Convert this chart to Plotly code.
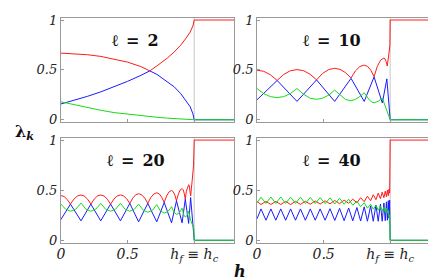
import plotly.graph_objects as go

# ---------------- data ----------------
# panel l = 2
H1 = [0, 0.1, 0.2, 0.3, 0.4, 0.5, 0.6, 0.667, 0.72, 0.8, 0.85, 0.9, 0.94, 0.97, 0.99, 1.0, 1.3]
R1 = [0.668, 0.663, 0.652, 0.635, 0.610, 0.578, 0.533, 0.49, 0.54, 0.62, 0.68, 0.75, 0.82, 0.88, 0.94, 1.0, 1.0]
B1 = [0.158, 0.195, 0.235, 0.28, 0.33, 0.385, 0.445, 0.49, 0.455, 0.375, 0.33, 0.26, 0.19, 0.13, 0.06, 0.0, 0.0]
G1 = [0.18, 0.15, 0.12, 0.095, 0.072, 0.055, 0.04, 0.03, 0.025, 0.016, 0.012, 0.008, 0.005, 0.003, 0.001, 0.0, 0.0]

# panel l = 10
HR2 = [0, 0.05, 0.10, 0.151, 0.20, 0.25, 0.30, 0.349, 0.398, 0.447, 0.492, 0.538, 0.583, 0.624,
       0.665, 0.706, 0.739, 0.772, 0.805, 0.83, 0.855, 0.879, 0.903, 0.928, 0.953, 0.961, 0.970,
       0.978, 0.99, 0.998, 1.0, 1.3]
R2 = [0.497, 0.486, 0.451, 0.394, 0.454, 0.491, 0.503, 0.492, 0.457, 0.40, 0.464, 0.503, 0.516, 0.505,
      0.472, 0.419, 0.49, 0.534, 0.548, 0.535, 0.496, 0.432, 0.535, 0.598, 0.619, 0.61, 0.583,
      0.539, 0.66, 0.75, 1.0, 1.0]
HB2 = [0, 0.151, 0.30, 0.447, 0.583, 0.706, 0.805, 0.879, 0.941, 0.975, 1.0, 1.3]
B2 = [0.20, 0.394, 0.184, 0.40, 0.184, 0.415, 0.184, 0.43, 0.168, 0.41, 0.0, 0.0]
HG2 = [0, 0.05, 0.10, 0.151, 0.20, 0.25, 0.30, 0.35, 0.40, 0.447, 0.49, 0.54, 0.583, 0.625, 0.665,
       0.706, 0.74, 0.775, 0.805, 0.84, 0.86, 0.879, 0.91, 0.941, 0.96, 0.985, 1.0, 1.3]
G2 = [0.313, 0.262, 0.232, 0.222, 0.232, 0.262, 0.313, 0.255, 0.215, 0.205, 0.215, 0.248, 0.297, 0.245,
      0.203, 0.19, 0.205, 0.235, 0.271, 0.205, 0.178, 0.17, 0.185, 0.216, 0.15, 0.07, 0.0, 0.0]

# panel l = 20
HR3 = [0, 0.024, 0.048, 0.072, 0.098, 0.125, 0.151, 0.175, 0.200, 0.225, 0.25, 0.274, 0.299, 0.324,
       0.348, 0.373, 0.398, 0.422, 0.447, 0.47, 0.494, 0.517, 0.539, 0.561, 0.583, 0.606, 0.629,
       0.652, 0.674, 0.697, 0.719, 0.738, 0.756, 0.775, 0.793, 0.812, 0.830, 0.842, 0.855, 0.867,
       0.881, 0.895, 0.909, 0.917, 0.925, 0.933, 0.941, 0.95, 0.958, 0.963, 0.968, 0.973, 0.985,
       0.995, 1.0, 1.3]
R3 = [0.446, 0.437, 0.407, 0.361, 0.411, 0.442, 0.452, 0.442, 0.411, 0.361, 0.411, 0.442, 0.452, 0.442,
      0.411, 0.361, 0.411, 0.442, 0.452, 0.443, 0.414, 0.368, 0.421, 0.454, 0.465, 0.454, 0.421,
      0.368, 0.426, 0.462, 0.474, 0.463, 0.430, 0.377, 0.443, 0.484, 0.497, 0.486, 0.451, 0.394,
      0.461, 0.503, 0.516, 0.504, 0.468, 0.41, 0.49, 0.539, 0.555, 0.543, 0.504, 0.442, 0.6,
      0.75, 1.0, 1.0]
HB3 = [0, 0.072, 0.151, 0.225, 0.299, 0.373, 0.447, 0.517, 0.583, 0.652, 0.719, 0.775, 0.830, 0.867,
       0.909, 0.933, 0.958, 0.973, 1.0, 1.3]
B3 = [0.206, 0.361, 0.194, 0.361, 0.194, 0.361, 0.194, 0.368, 0.184, 0.368, 0.184, 0.377, 0.174, 0.394,
      0.174, 0.41, 0.168, 0.426, 0.0, 0.0]
HG3 = [0, 0.036, 0.072, 0.112, 0.151, 0.188, 0.225, 0.262, 0.299, 0.336, 0.373, 0.41, 0.447, 0.482,
       0.517, 0.55, 0.583, 0.618, 0.652, 0.686, 0.719, 0.747, 0.775, 0.803, 0.830, 0.849, 0.867,
       0.888, 0.909, 0.921, 0.933, 0.946, 0.958, 0.966, 0.973, 0.985, 0.997, 1.0, 1.3]
G3 = [0.362, 0.31, 0.29, 0.31, 0.371, 0.31, 0.29, 0.31, 0.368, 0.31, 0.29, 0.31, 0.368, 0.31,
      0.29, 0.308, 0.361, 0.30, 0.28, 0.299, 0.355, 0.292, 0.271, 0.287, 0.335, 0.277, 0.258,
      0.274, 0.32, 0.254, 0.232, 0.247, 0.29, 0.22, 0.2, 0.16, 0.12, 0.0, 0.0]

# panel l = 40
H4 = [0, 0.03, 0.067, 0.104, 0.141, 0.178, 0.215, 0.252, 0.289, 0.326, 0.363, 0.40, 0.437, 0.474,
      0.511, 0.548, 0.584, 0.62, 0.654, 0.688, 0.719, 0.75, 0.778, 0.805, 0.829, 0.853, 0.873,
      0.893, 0.91, 0.927, 0.94, 0.953, 0.963, 0.972, 0.979, 0.986, 0.991, 0.996, 1.0, 1.3]
R4 = [0.387, 0.357, 0.388, 0.357, 0.388, 0.357, 0.388, 0.357, 0.389, 0.358, 0.39, 0.36, 0.392, 0.362,
      0.394, 0.364, 0.397, 0.366, 0.40, 0.37, 0.41, 0.375, 0.425, 0.385, 0.44, 0.395, 0.455,
      0.405, 0.47, 0.415, 0.48, 0.425, 0.49, 0.435, 0.50, 0.445, 0.51, 0.47, 1.0, 1.0]
B4 = [0.215, 0.313, 0.2, 0.313, 0.2, 0.313, 0.2, 0.313, 0.2, 0.313, 0.2, 0.313, 0.2, 0.313,
      0.2, 0.315, 0.198, 0.318, 0.196, 0.322, 0.194, 0.327, 0.192, 0.334, 0.19, 0.343, 0.19,
      0.352, 0.19, 0.362, 0.19, 0.372, 0.195, 0.383, 0.2, 0.395, 0.22, 0.40, 0.0, 0.0]
G4 = [0.375, 0.43, 0.368, 0.432, 0.368, 0.432, 0.368, 0.43, 0.368, 0.43, 0.367, 0.428, 0.366, 0.426,
      0.365, 0.424, 0.362, 0.42, 0.36, 0.41, 0.35, 0.39, 0.335, 0.375, 0.32, 0.36, 0.31,
      0.35, 0.3, 0.34, 0.29, 0.33, 0.28, 0.32, 0.27, 0.3, 0.24, 0.25, 0.0, 0.0]

PANEL_LABELS = ["2", "10", "20", "40"]
X_TICKVALS = [0, 0.5, 1.0]
X_TICKTEXT = ["<i>0</i>", "<i>0.5</i>", "<i>h</i><sub><i>f</i></sub><i> \u2261 h</i><sub><i>c</i></sub>"]
Y_TICKVALS = [0, 0.5, 1.0]
Y_TICKTEXT = ["<i>0</i>", "<i>0.5</i>", "<i>1</i>"]
H_C = 1.0

# ---------------- figure ----------------
RED, BLUE, GREEN = "#ff1a1a", "#1a1aff", "#14dc14"
FONT = "DejaVu Serif"
W, Hh = 436, 280

panels = [
    ((H1, R1), (H1, B1), (H1, G1)),
    ((HR2, R2), (HB2, B2), (HG2, G2)),
    ((HR3, R3), (HB3, B3), (HG3, G3)),
    ((H4, R4), (H4, B4), (H4, G4)),
]

# pixel frames of the four panels: (left, right, top, bottom)
frames = [(49.3, 224.3, 5, 113.3), (247.3, 422, 5, 113.3),
          (49.3, 224.3, 129.5, 238.3), (247.3, 422, 129.5, 238.3)]

fig = go.Figure()
layout = dict(width=W, height=Hh, margin=dict(l=0, r=0, t=0, b=0),
              paper_bgcolor="white", plot_bgcolor="white", showlegend=False,
              font=dict(family=FONT, color="#222"))

shapes = []
annotations = []
for i, (pan, fr) in enumerate(zip(panels, frames)):
    n = "" if i == 0 else str(i + 1)
    xa, ya = "x" + n, "y" + n
    for (hx, vy), col in zip(pan, (RED, BLUE, GREEN)):
        fig.add_trace(go.Scatter(x=hx, y=vy, mode="lines", xaxis=xa, yaxis=ya,
                                 line=dict(color=col, width=1), hoverinfo="skip"))
    l, r, t, b = fr
    bottom_row = i >= 2
    layout["xaxis" + n] = dict(
        domain=[l / W, r / W], range=[0, 1.3], anchor=ya,
        showline=True, linecolor="#999", linewidth=1, mirror=True,
        ticks="inside", ticklen=3, tickcolor="#999",
        tickvals=X_TICKVALS, ticktext=X_TICKTEXT,
        showticklabels=bottom_row, showgrid=False, zeroline=False,
        ticklabelstandoff=-2,
        tickfont=dict(family=FONT, size=14, color="#222"))
    layout["yaxis" + n] = dict(
        domain=[1 - b / Hh, 1 - t / Hh], range=[-0.025, 1.022], anchor=xa,
        showline=True, linecolor="#999", linewidth=1, mirror=True,
        ticks="inside", ticklen=3, tickcolor="#999",
        tickvals=Y_TICKVALS, ticktext=Y_TICKTEXT,
        showgrid=False, zeroline=False,
        tickfont=dict(family=FONT, size=13, color="#222"))
    shapes.append(dict(type="line", xref=xa, yref=ya + " domain", x0=H_C, x1=H_C, y0=0, y1=1,
                       line=dict(color="#c8c8c8", width=1), layer="below"))
    annotations.append(dict(xref=xa, yref=ya, x=0.56, y=0.79 if i < 2 else 0.80,
                            text="<b>\u2113\u2002=\u2002" + PANEL_LABELS[i] + "</b>",
                            showarrow=False, font=dict(family=FONT, size=16, color="#111")))

annotations.append(dict(xref="paper", yref="paper", x=13 / W, y=1 - 123.5 / Hh,
                        xanchor="center", yanchor="middle",
                        text="<b>\u03bb<sub><i>k</i></sub></b>", showarrow=False,
                        font=dict(family=FONT, size=16, color="#111")))
annotations.append(dict(xref="paper", yref="paper", x=230 / W, y=1 - 268 / Hh,
                        xanchor="center", yanchor="middle",
                        text="<b><i>h</i></b>", showarrow=False,
                        font=dict(family=FONT, size=16, color="#111")))

layout["shapes"] = shapes
layout["annotations"] = annotations
fig.update_layout(**layout)
fig.write_html("out.html")
